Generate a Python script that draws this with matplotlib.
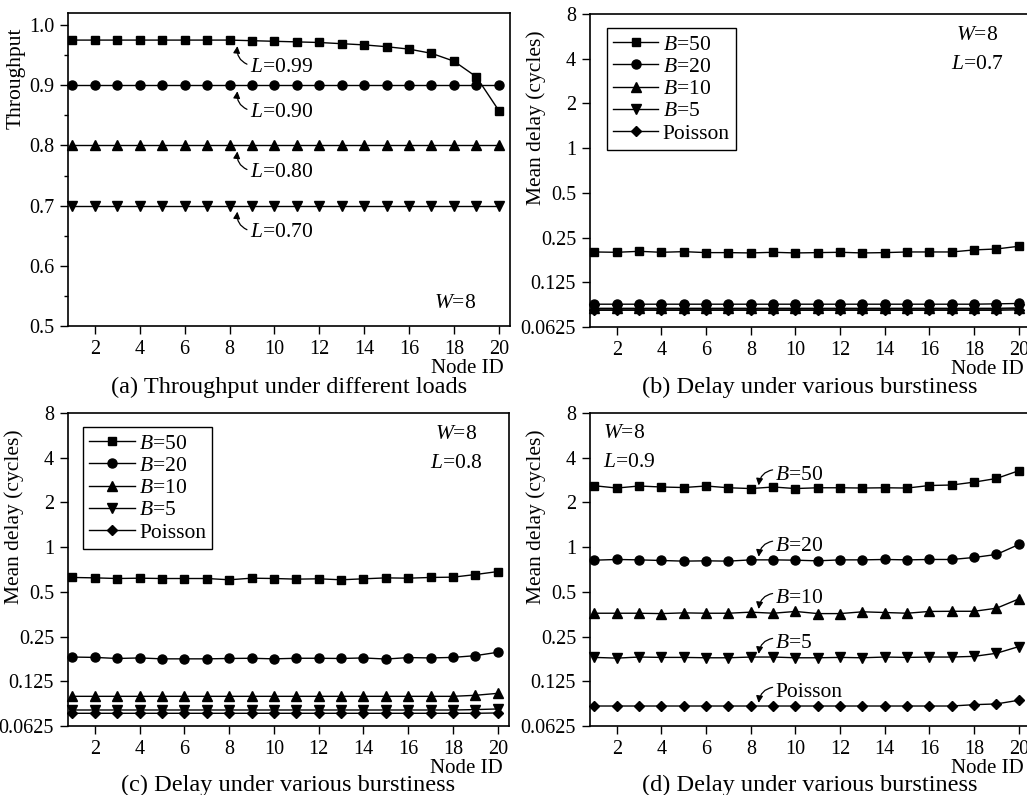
import matplotlib
matplotlib.use('Agg')
import matplotlib.pyplot as plt
from matplotlib.ticker import MultipleLocator, NullLocator

plt.rcParams['font.family'] = ['Liberation Serif', 'DejaVu Serif']
plt.rcParams['mathtext.fontset'] = 'custom'
plt.rcParams['mathtext.rm'] = 'Liberation Serif'
plt.rcParams['mathtext.it'] = 'Liberation Serif:italic'

# ---------------------------------------------------------------
# data
# ---------------------------------------------------------------
node_ids = [1, 2, 3, 4, 5, 6, 7, 8, 9, 10, 11, 12, 13, 14, 15, 16, 17, 18, 19, 20]

# (a) throughput, W=8
thr_loads = ['0.99', '0.90', '0.80', '0.70']
thr_099 = [0.975, 0.975, 0.975, 0.975, 0.975, 0.975, 0.975, 0.975, 0.974, 0.973,
           0.972, 0.971, 0.969, 0.967, 0.964, 0.960, 0.953, 0.940, 0.914, 0.858]
thr_090 = [0.90, 0.90, 0.90, 0.90, 0.90, 0.90, 0.90, 0.90, 0.90, 0.90,
           0.90, 0.90, 0.90, 0.90, 0.90, 0.90, 0.90, 0.90, 0.90, 0.90]
thr_080 = [0.80, 0.80, 0.80, 0.80, 0.80, 0.80, 0.80, 0.80, 0.80, 0.80,
           0.80, 0.80, 0.80, 0.80, 0.80, 0.80, 0.80, 0.80, 0.80, 0.80]
thr_070 = [0.70, 0.70, 0.70, 0.70, 0.70, 0.70, 0.70, 0.70, 0.70, 0.70,
           0.70, 0.70, 0.70, 0.70, 0.70, 0.70, 0.70, 0.70, 0.70, 0.70]

series_names = ['$B$=50', '$B$=20', '$B$=10', '$B$=5', 'Poisson']

# (b) mean delay, L=0.7
d07_b50 = [0.200, 0.199, 0.202, 0.199, 0.201, 0.198, 0.198, 0.197, 0.199, 0.197,
           0.198, 0.199, 0.197, 0.198, 0.200, 0.200, 0.200, 0.2065, 0.2095, 0.2185]
d07_b20 = [0.089, 0.089, 0.089, 0.089, 0.089, 0.089, 0.089, 0.089, 0.089, 0.089,
           0.089, 0.089, 0.089, 0.089, 0.089, 0.089, 0.089, 0.089, 0.0895, 0.090]
d07_b10 = [0.0835, 0.0835, 0.0835, 0.0835, 0.0835, 0.0835, 0.0835, 0.0835, 0.0835, 0.0835,
           0.0835, 0.0835, 0.0835, 0.0835, 0.0835, 0.0835, 0.0835, 0.0835, 0.0835, 0.084]
d07_b5 = [0.0825, 0.0825, 0.0825, 0.0825, 0.0825, 0.0825, 0.0825, 0.0825, 0.0825, 0.0825,
          0.0825, 0.0825, 0.0825, 0.0825, 0.0825, 0.0825, 0.0825, 0.0825, 0.0825, 0.083]
d07_poi = [0.081, 0.081, 0.081, 0.081, 0.081, 0.081, 0.081, 0.081, 0.081, 0.081,
           0.081, 0.081, 0.081, 0.081, 0.081, 0.081, 0.081, 0.081, 0.081, 0.0815]

# (c) mean delay, L=0.8
d08_b50 = [0.625, 0.621, 0.615, 0.618, 0.615, 0.615, 0.615, 0.603, 0.618, 0.615,
           0.609, 0.612, 0.603, 0.612, 0.621, 0.618, 0.625, 0.628, 0.654, 0.685]
d08_b20 = [0.182, 0.181, 0.178, 0.1795, 0.177, 0.177, 0.177, 0.178, 0.1786, 0.177,
           0.1786, 0.1786, 0.178, 0.1795, 0.1765, 0.1805, 0.1795, 0.181, 0.186, 0.196]
d08_b10 = [0.099, 0.099, 0.099, 0.099, 0.099, 0.099, 0.099, 0.099, 0.099, 0.099,
           0.099, 0.099, 0.099, 0.099, 0.099, 0.099, 0.099, 0.099, 0.1006, 0.1037]
d08_b5 = [0.0801, 0.0801, 0.0801, 0.0801, 0.0801, 0.0801, 0.0801, 0.0801, 0.0801, 0.0801,
          0.0801, 0.0801, 0.0801, 0.0801, 0.0801, 0.0801, 0.0801, 0.0801, 0.0806, 0.0814]
d08_poi = [0.0761, 0.0761, 0.0761, 0.0761, 0.0761, 0.0761, 0.0761, 0.0761, 0.0761, 0.0761,
           0.0761, 0.0761, 0.0761, 0.0761, 0.0761, 0.0761, 0.0761, 0.0761, 0.0761, 0.0765]

# (d) mean delay, L=0.9
d09_b50 = [2.59, 2.50, 2.58, 2.54, 2.52, 2.58, 2.51, 2.48, 2.54, 2.48,
           2.51, 2.51, 2.50, 2.51, 2.50, 2.60, 2.62, 2.74, 2.90, 3.27]
d09_b20 = [0.817, 0.826, 0.821, 0.813, 0.805, 0.809, 0.805, 0.821, 0.821, 0.817,
           0.809, 0.821, 0.821, 0.826, 0.821, 0.826, 0.826, 0.852, 0.893, 1.042]
d09_b10 = [0.359, 0.359, 0.359, 0.357, 0.361, 0.359, 0.359, 0.365, 0.359, 0.369,
           0.357, 0.357, 0.367, 0.363, 0.359, 0.369, 0.370, 0.370, 0.388, 0.448]
d09_b5 = [0.181, 0.179, 0.182, 0.181, 0.181, 0.180, 0.180, 0.182, 0.182, 0.180,
          0.180, 0.181, 0.180, 0.182, 0.181, 0.182, 0.182, 0.184, 0.193, 0.214]
d09_poi = [0.0852, 0.0852, 0.0852, 0.0852, 0.0852, 0.0852, 0.0852, 0.0852, 0.0852, 0.0852,
           0.0852, 0.0852, 0.0852, 0.0852, 0.0852, 0.0852, 0.0852, 0.0870, 0.0880, 0.0932]

markers = ['s', 'o', '^', 'v', 'D']
msizes = [5.5, 6.5, 6.5, 6.5, 5.5]
log_ticks = [0.0625, 0.125, 0.25, 0.5, 1, 2, 4, 8]
log_labels = ['0.0625', '0.125', '0.25', '0.5', '1', '2', '4', '8']

FS = 14.5


def style_axes(ax):
    ax.set_xlim(0.8, 20.5)
    ax.set_xticks([2, 4, 6, 8, 10, 12, 14, 16, 18, 20])
    ax.tick_params(direction='out', length=6, width=1, labelsize=FS, pad=4,
                   top=False, right=False)
    ax.tick_params(which='minor', direction='out', length=3, width=1)
    for s in ax.spines.values():
        s.set_linewidth(1.2)
    ax.text(0.985, -0.135, 'Node ID', transform=ax.transAxes, ha='right',
            va='center', fontsize=15)


def style_log(ax):
    ax.set_yscale('log', base=2)
    ax.set_ylim(0.0625, 8)
    ax.set_yticks(log_ticks)
    ax.set_yticklabels(log_labels)
    ax.yaxis.set_minor_locator(NullLocator())
    ax.set_ylabel('Mean delay (cycles)', fontsize=15.5)
    ax.yaxis.set_label_coords(-0.10, 0.668)


W, H = 1027, 795
fig = plt.figure(figsize=(W / 100, H / 100), dpi=100)

ax_a = fig.add_axes([68 / W, 1 - 326 / H, 442 / W, 313 / H])
ax_b = fig.add_axes([590 / W, 1 - 327 / H, 440 / W, 313 / H])
ax_c = fig.add_axes([68 / W, 1 - 726 / H, 441 / W, 313 / H])
ax_d = fig.add_axes([590 / W, 1 - 726 / H, 440 / W, 313 / H])

# ---------------- (a) throughput ----------------
thr_series = [thr_099, thr_090, thr_080, thr_070]
for vals, mk, ms, lab in zip(thr_series, ['s', 'o', '^', 'v'], msizes, thr_loads):
    ax_a.plot(node_ids, vals, color='black', lw=1, marker=mk, ms=ms, clip_on=False)
    v8 = vals[7]
    ax_a.annotate('$L$=' + lab, xy=(8.35, v8 - 0.010), xytext=(8.9, v8 - 0.045),
                  fontsize=15.5, ha='left', va='center',
                  arrowprops=dict(arrowstyle='-|>', color='black', lw=0.9,
                                  mutation_scale=10, relpos=(0, 0.6),
                                  connectionstyle='arc3,rad=-0.4',
                                  shrinkA=0, shrinkB=0))
style_axes(ax_a)
ax_a.set_ylim(0.5, 1.02)
ax_a.set_yticks([0.5, 0.6, 0.7, 0.8, 0.9, 1.0])
ax_a.set_yticklabels(['0.5', '0.6', '0.7', '0.8', '0.9', '1.0'])
ax_a.yaxis.set_minor_locator(MultipleLocator(0.05))
ax_a.set_ylabel('Throughput', fontsize=15.5)
ax_a.yaxis.set_label_coords(-0.097, 0.79)
ax_a.text(0.875, 0.073, '$W$=8', transform=ax_a.transAxes, ha='center',
          va='center', fontsize=15.5)


def delay_panel(ax, series, load, legend_anchor=None, annotate=False):
    for vals, mk, ms, name in zip(series, markers, msizes, series_names):
        ax.plot(node_ids, vals, color='black', lw=1, marker=mk, ms=ms,
                label=name, clip_on=False)
    style_axes(ax)
    style_log(ax)
    if legend_anchor is not None:
        leg = ax.legend(loc='upper left', bbox_to_anchor=legend_anchor,
                        borderaxespad=0, fontsize=15.5, fancybox=False,
                        edgecolor='black', framealpha=1, handlelength=2.1,
                        handletextpad=0.2, labelspacing=0.1,
                        borderpad=0.3)
        leg.get_frame().set_linewidth(1.0)
        ax.text(0.88, 0.93, '$W$=8', transform=ax.transAxes, ha='center',
                va='center', fontsize=15.5)
        ax.text(0.88, 0.84, '$L$=' + load, transform=ax.transAxes,
                ha='center', va='center', fontsize=15.5)
    if annotate:
        for vals, name in zip(series, series_names):
            v8 = vals[7]
            ax.annotate(name, xy=(8.35, v8 * 1.05), xytext=(9.1, v8 * 1.23),
                        fontsize=15.5, ha='left', va='center',
                        arrowprops=dict(arrowstyle='-|>', color='black', lw=0.9,
                                        mutation_scale=10, relpos=(0, 0.8),
                                        connectionstyle='arc3,rad=0.4',
                                        shrinkA=0, shrinkB=0))
        ax.text(0.03, 0.936, '$W$=8', transform=ax.transAxes, ha='left',
                va='center', fontsize=15.5)
        ax.text(0.03, 0.843, '$L$=' + load, transform=ax.transAxes,
                ha='left', va='center', fontsize=15.5)


delay_panel(ax_b, [d07_b50, d07_b20, d07_b10, d07_b5, d07_poi], '0.7',
            legend_anchor=(0.038, 0.955))
delay_panel(ax_c, [d08_b50, d08_b20, d08_b10, d08_b5, d08_poi], '0.8',
            legend_anchor=(0.034, 0.955))
delay_panel(ax_d, [d09_b50, d09_b20, d09_b10, d09_b5, d09_poi], '0.9',
            annotate=True)

# captions
fig.text(289 / W, 1 - 387 / H, '(a) Throughput under different loads',
         ha='center', va='center', fontsize=17.5)
fig.text(810 / W, 1 - 387 / H, '(b) Delay under various burstiness',
         ha='center', va='center', fontsize=17.5)
fig.text(288 / W, 1 - 785 / H, '(c) Delay under various burstiness',
         ha='center', va='center', fontsize=17.5)
fig.text(810 / W, 1 - 785 / H, '(d) Delay under various burstiness',
         ha='center', va='center', fontsize=17.5)

fig.savefig('out.png', dpi=100)
